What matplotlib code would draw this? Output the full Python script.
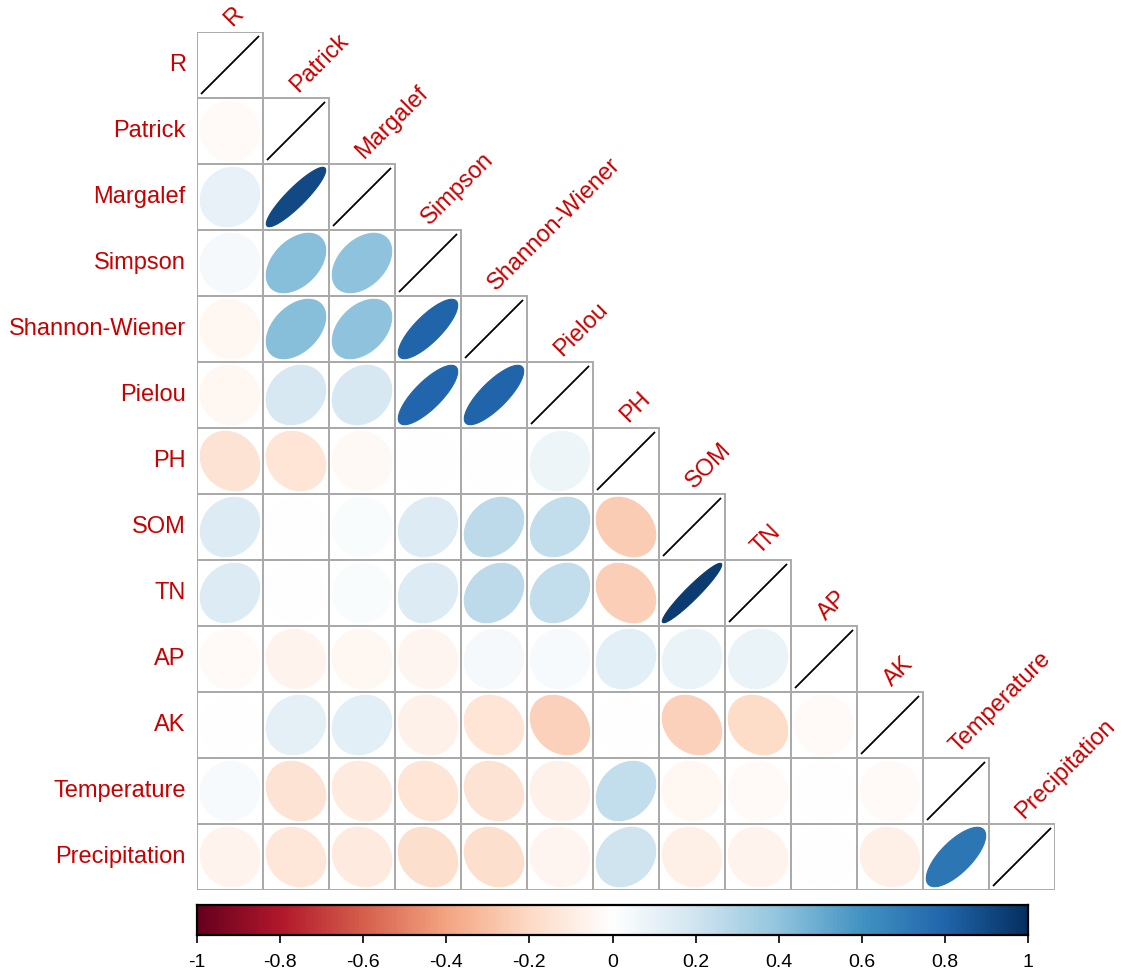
"""Lower-triangle ellipse correlation plot of diversity indices and soil/climate factors."""

import numpy as np
import matplotlib

matplotlib.use("Agg")
import matplotlib.pyplot as plt  # noqa: E402
from matplotlib.colors import LinearSegmentedColormap  # noqa: E402
from matplotlib.patches import Polygon, Rectangle  # noqa: E402

plt.rcParams["font.family"] = ["Liberation Sans", "DejaVu Sans"]

LABELS = ["R", "Patrick", "Margalef", "Simpson", "Shannon-Wiener", "Pielou",
          "PH", "SOM", "TN", "AP", "AK", "Temperature", "Precipitation"]

# Lower triangle, row by row (columns 0 .. i-1).
R_PATRICK = [-0.03]
R_MARGALEF = [0.10, 0.90]
R_SIMPSON = [0.04, 0.42, 0.40]
R_SHANNON = [-0.05, 0.42, 0.40, 0.80]
R_PIELOU = [-0.05, 0.17, 0.17, 0.79, 0.80]
R_PH = [-0.16, -0.15, -0.04, 0.00, 0.00, 0.07]
R_SOM = [0.15, 0.00, 0.02, 0.15, 0.26, 0.24, -0.26]
R_TN = [0.15, 0.00, 0.02, 0.15, 0.26, 0.24, -0.25, 0.95]
R_AP = [-0.03, -0.07, -0.05, -0.06, 0.04, 0.03, 0.12, 0.09, 0.09]
R_AK = [0.00, 0.11, 0.12, -0.08, -0.15, -0.24, 0.00, -0.24, -0.20, -0.03]
R_TEMP = [0.03, -0.16, -0.12, -0.15, -0.16, -0.08, 0.24, -0.05, -0.03, 0.00, -0.03]
R_PREC = [-0.07, -0.14, -0.12, -0.18, -0.18, -0.06, 0.20, -0.09, -0.07, -0.01, -0.09, 0.72]

ROWS = [[], R_PATRICK, R_MARGALEF, R_SIMPSON, R_SHANNON, R_PIELOU, R_PH,
        R_SOM, R_TN, R_AP, R_AK, R_TEMP, R_PREC]

RDBU = ["#67001F", "#B2182B", "#D6604D", "#F4A582", "#FDDBC7", "#FFFFFF",
        "#D1E5F0", "#92C5DE", "#4393C3", "#2166AC", "#053061"]
CB_TICKS = [-1, -0.8, -0.6, -0.4, -0.2, 0, 0.2, 0.4, 0.6, 0.8, 1]

RED = "#c80000"
GRID = "#aaaaaa"
W, H = 1124, 980


def ellipse(rho, n=99, scale=0.9):
    k = np.linspace(0, 2 * np.pi, n)
    a = np.arccos(np.clip(rho, -1, 1)) / 2
    return scale * np.cos(k + a) / 2, scale * np.cos(k - a) / 2


def main() -> None:
    n = len(LABELS)
    corr = np.eye(n)
    for i, row in enumerate(ROWS):
        for j, v in enumerate(row):
            corr[i, j] = corr[j, i] = v

    cmap = LinearSegmentedColormap.from_list("corr", RDBU, N=200)

    fig = plt.figure(figsize=(W / 100, H / 100), dpi=100)
    ax = fig.add_axes([197 / W, 1 - 890 / H, 858 / W, 858 / H])
    ax.set_xlim(0, n)
    ax.set_ylim(n, 0)
    ax.axis("off")

    for i in range(n):
        for j in range(i + 1):
            ax.add_patch(Rectangle((j, i), 1, 1, fill=False, edgecolor=GRID, lw=1.4, zorder=1))
            cx, cy = j + 0.5, i + 0.5
            if i == j:
                ax.plot([cx - 0.43, cx + 0.43], [cy + 0.43, cy - 0.43],
                        color="black", lw=1.3, zorder=3)
                continue
            r = corr[i, j]
            ex, ey = ellipse(r)
            col = cmap((r + 1) / 2)
            ax.add_patch(Polygon(np.column_stack([cx + ex, cy - ey]), closed=True,
                                 facecolor=col, edgecolor=col, lw=0.8, zorder=2))

    for i, name in enumerate(LABELS):
        ax.text(-0.17, i + 0.5, name, ha="right", va="center", color=RED, fontsize=17)
        ax.text(i + 0.58, i - 0.02, name, ha="left", va="bottom", rotation=45,
                rotation_mode="anchor", color=RED, fontsize=17)

    # colour legend
    cax = fig.add_axes([197 / W, 1 - 935 / H, 831 / W, 30 / H])
    cax.imshow(np.linspace(-1, 1, 400)[None, :], cmap=cmap, aspect="auto",
               extent=[-1, 1, 0, 1], vmin=-1, vmax=1)
    cax.set_xlim(-1, 1)
    cax.set_yticks([])
    cax.set_xticks(CB_TICKS)
    cax.set_xticklabels([f"{t:g}" for t in CB_TICKS], fontsize=14,
                        family=["Liberation Sans Narrow", "Liberation Sans", "DejaVu Sans"])
    cax.tick_params(axis="x", direction="out", length=6, width=1.2, pad=8)
    for s in cax.spines.values():
        s.set_linewidth(1.6)

    fig.savefig("out.png", dpi=100)


if __name__ == "__main__":
    main()
